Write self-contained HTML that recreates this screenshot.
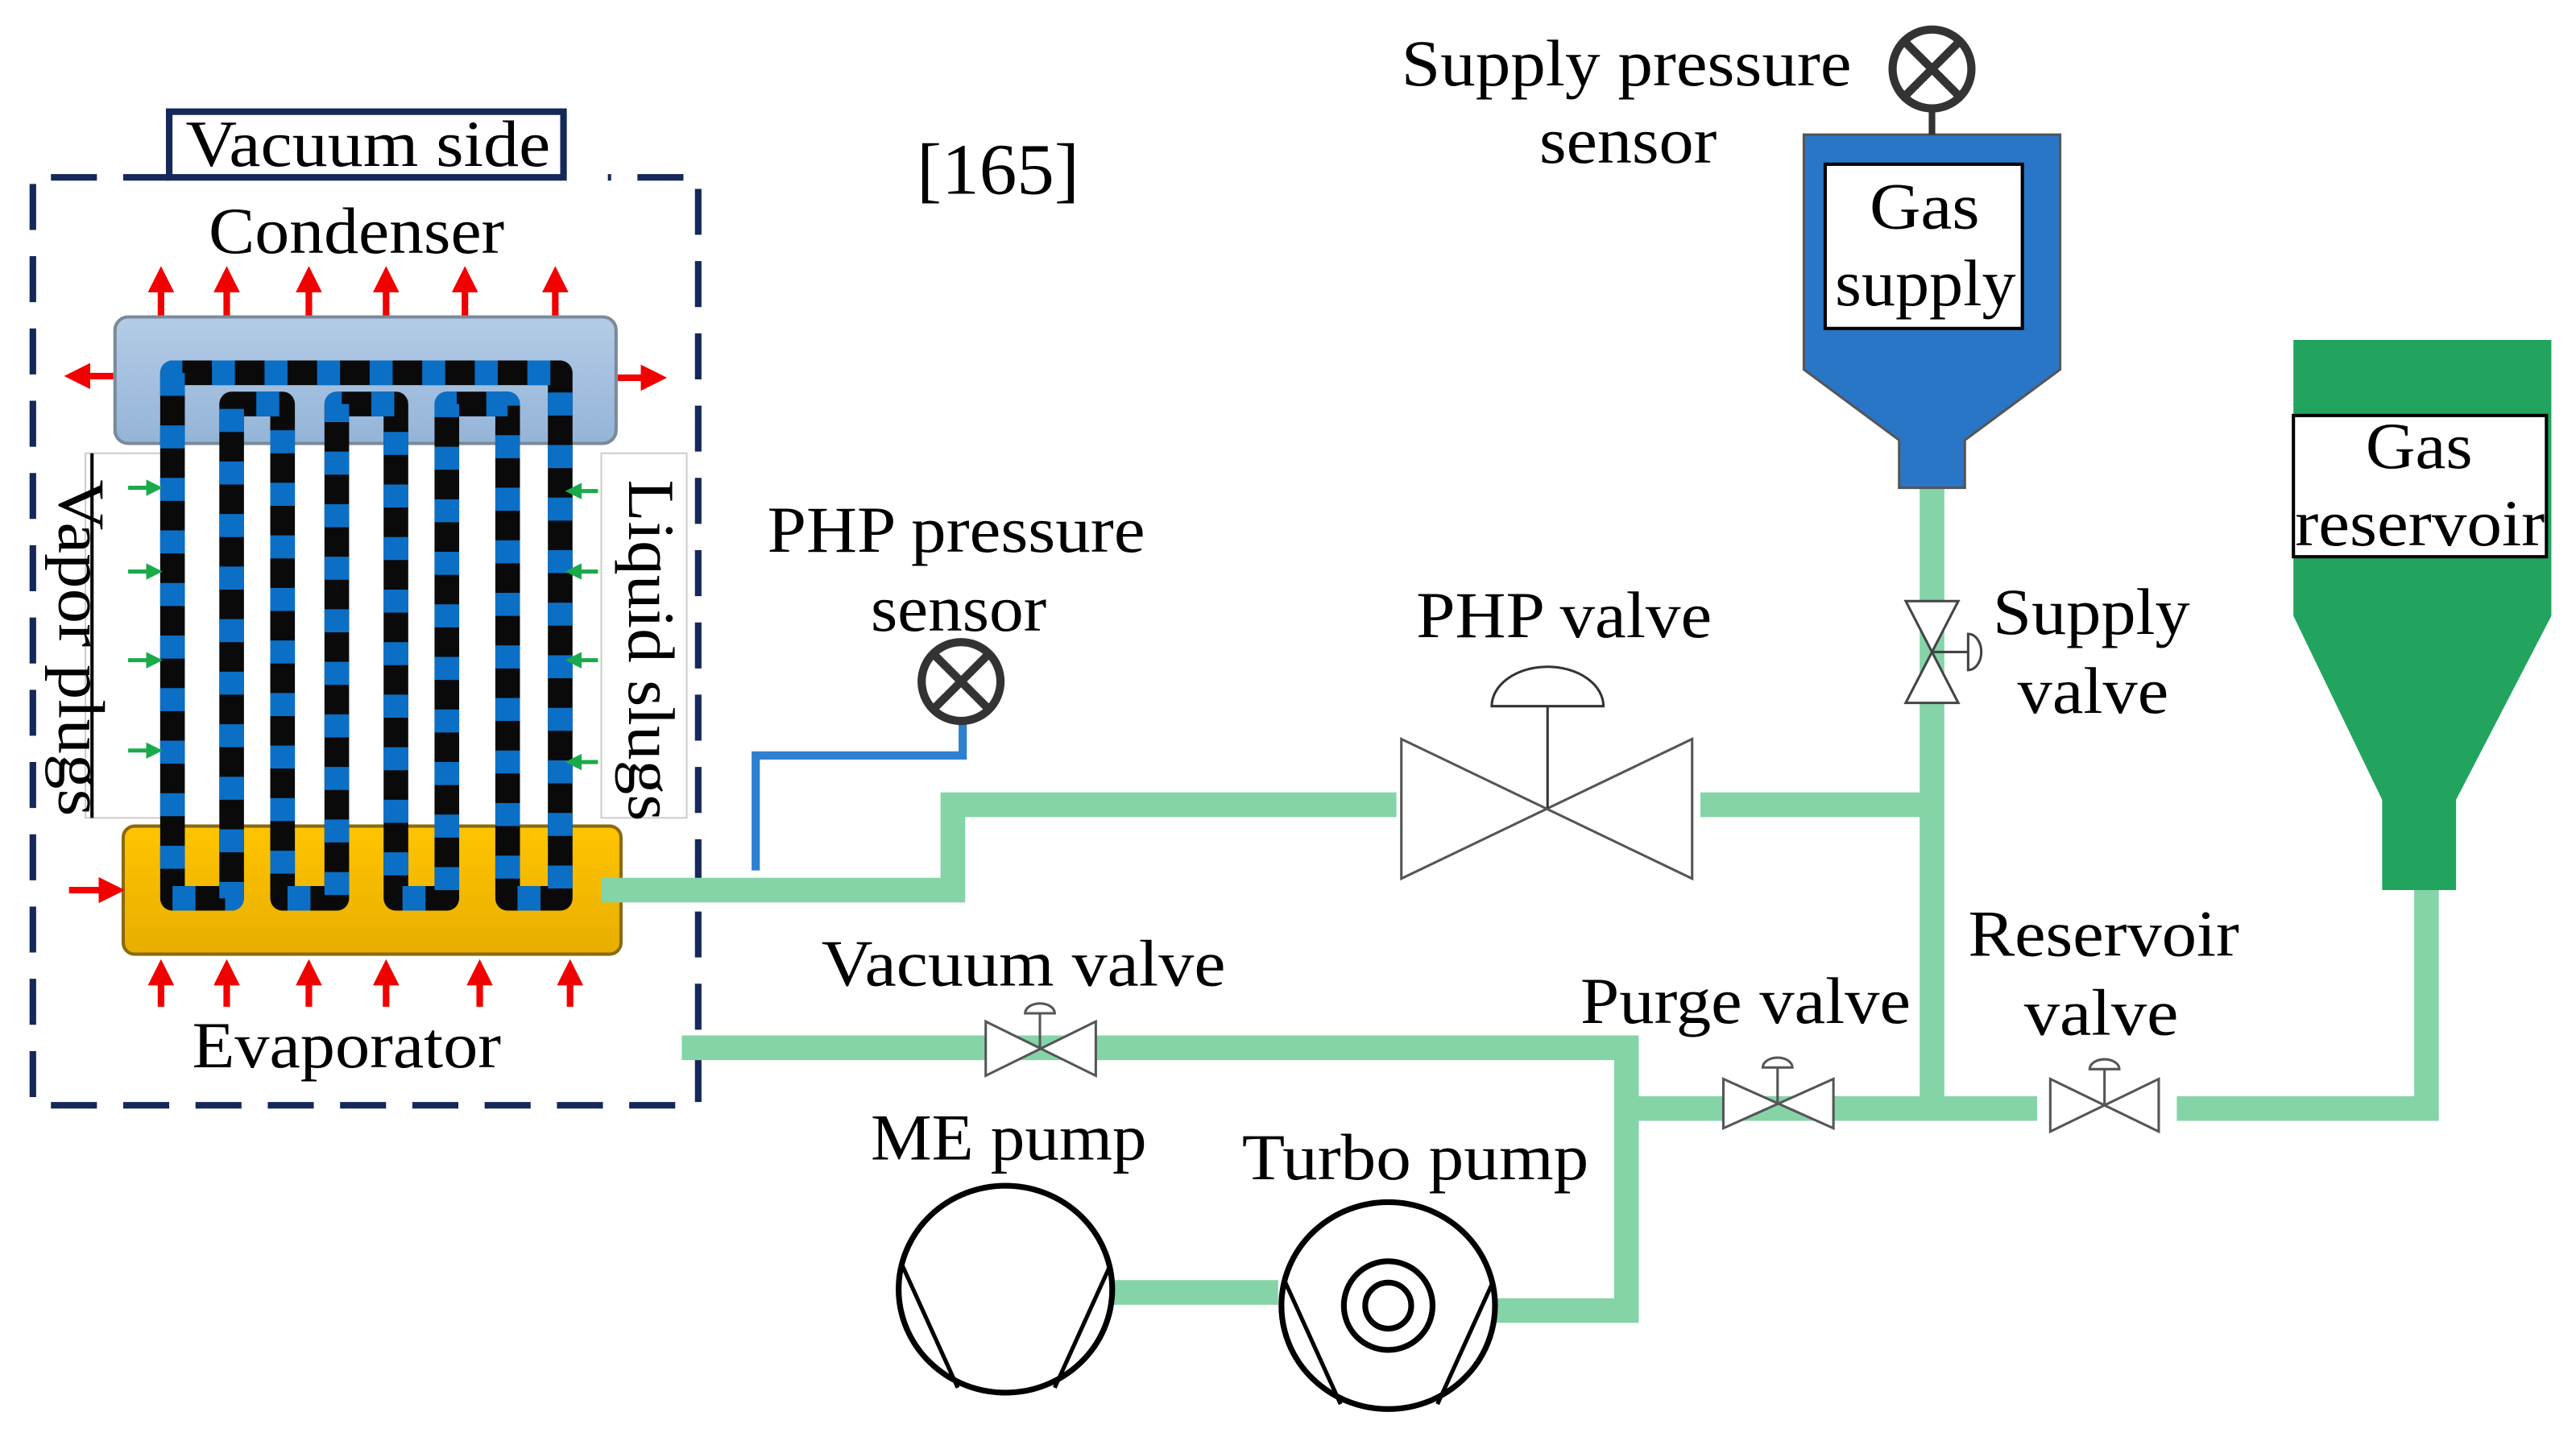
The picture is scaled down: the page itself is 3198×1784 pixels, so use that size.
<!DOCTYPE html>
<html><head><meta charset="utf-8"><style>
html,body{margin:0;padding:0;background:#fff;}
svg{display:block;}
text{font-family:"Liberation Serif",serif;fill:#000;}
</style></head><body>
<svg width="3198" height="1784" viewBox="0 0 1568 875" preserveAspectRatio="none" xmlns="http://www.w3.org/2000/svg">
<defs>
<linearGradient id="cg" x1="0" y1="0" x2="0" y2="1"><stop offset="0" stop-color="#b4cce6"/><stop offset="1" stop-color="#94b4d8"/></linearGradient>
<linearGradient id="eg" x1="0" y1="0" x2="0" y2="1"><stop offset="0" stop-color="#ffc400"/><stop offset="1" stop-color="#e8ae00"/></linearGradient>
<marker id="ra" markerWidth="4" markerHeight="4" refX="2" refY="2" orient="auto" markerUnits="strokeWidth"><path d="M0,0 L4,2 L0,4 z" fill="#f20000"/></marker>
<marker id="ga" markerWidth="4" markerHeight="4" refX="2" refY="2" orient="auto" markerUnits="strokeWidth"><path d="M0,0 L4,2 L0,4 z" fill="#1aaa4a"/></marker>
</defs>

<path d="M20,112 L20,673 L425,673 L425,108 L370,108 M103,108 L20,108" fill="none" stroke="#14285a" stroke-width="4" stroke-dasharray="28,16"/>
<rect x="103" y="68" width="240" height="40" fill="#fff" stroke="#14285a" stroke-width="4"/>
<text x="113" y="101" font-size="40" textLength="222" lengthAdjust="spacingAndGlyphs">Vacuum side</text>
<text x="558" y="118" font-size="44" textLength="99" lengthAdjust="spacingAndGlyphs">[165]</text>
<text x="127" y="154" font-size="40" textLength="180" lengthAdjust="spacingAndGlyphs">Condenser</text>
<text x="117" y="650" font-size="40" textLength="188" lengthAdjust="spacingAndGlyphs">Evaporator</text>

<rect x="52" y="276" width="48" height="222" fill="#fff" stroke="#ccc" stroke-width="1"/>
<line x1="56" y1="276" x2="56" y2="498" stroke="#000" stroke-width="2"/>
<rect x="366" y="276" width="52" height="222" fill="#fff" stroke="#ccc" stroke-width="1"/>
<text transform="translate(36,292) rotate(90)" font-size="40" textLength="205" lengthAdjust="spacingAndGlyphs">Vapor plugs</text>
<text transform="translate(383,292) rotate(90)" font-size="40" textLength="208" lengthAdjust="spacingAndGlyphs">Liquid slugs</text>

<rect x="70" y="193" width="305" height="77" rx="8" fill="url(#cg)" stroke="#7a8a9a" stroke-width="2"/>
<rect x="75" y="503" width="303" height="78" rx="7" fill="url(#eg)" stroke="#8a6a10" stroke-width="2"/>

<g fill="none" stroke-linejoin="round" stroke-width="15">
<path d="M105,227 L105,547 L141,547 L141,246 L172,246 L172,547 L205,547 L205,246 L241,246 L241,547 L272,547 L272,246 L309,246 L309,547 L341,547 L341,227 Z" stroke="#0a0a0a"/>
<path d="M105,227 L105,547 L141,547 L141,246 L172,246 L172,547 L205,547 L205,246 L241,246 L241,547 L272,547 L272,246 L309,246 L309,547 L341,547 L341,227 Z" stroke="#0b6fc6" stroke-dasharray="14,18"/>
</g>

<g stroke="#f20000" stroke-width="4" fill="none" marker-end="url(#ra)">
<line x1="98" y1="192" x2="98" y2="170"/><line x1="138" y1="192" x2="138" y2="170"/><line x1="188" y1="192" x2="188" y2="170"/><line x1="235" y1="192" x2="235" y2="170"/><line x1="283" y1="192" x2="283" y2="170"/><line x1="338" y1="192" x2="338" y2="170"/>
<line x1="69" y1="229" x2="47" y2="229"/><line x1="376" y1="230" x2="398" y2="230"/>
<line x1="42" y1="542" x2="68" y2="542"/>
<line x1="98" y1="613" x2="98" y2="592"/><line x1="138" y1="613" x2="138" y2="592"/><line x1="188" y1="613" x2="188" y2="592"/><line x1="235" y1="613" x2="235" y2="592"/><line x1="292" y1="613" x2="292" y2="592"/><line x1="347" y1="613" x2="347" y2="592"/>
</g>
<g stroke="#1aaa4a" stroke-width="2.5" fill="none" marker-end="url(#ga)">
<line x1="78" y1="297" x2="94" y2="297"/><line x1="78" y1="348" x2="94" y2="348"/><line x1="78" y1="402" x2="94" y2="402"/><line x1="78" y1="457" x2="94" y2="457"/>
<line x1="364" y1="299" x2="349" y2="299"/><line x1="364" y1="348" x2="349" y2="348"/><line x1="364" y1="402" x2="349" y2="402"/><line x1="364" y1="464" x2="349" y2="464"/>
</g>

<g fill="none" stroke="#84d4a8" stroke-width="15">
<path d="M366,542 L580,542 L580,490 L850,490"/>
<path d="M1035,490 L1176,490"/>
<path d="M1176,297 L1176,675"/>
<path d="M990,675 L1240,675"/>
<path d="M1325,675 L1477,675 L1477,540"/>
<path d="M415,638 L990,638 L990,798 L910,798"/>
<path d="M678,787 L778,787"/>
</g>
<path d="M460,530 L460,460 L586,460 L586,440" fill="none" stroke="#2f7fd0" stroke-width="5"/>
<circle cx="585" cy="415" r="24" fill="#fff" stroke="#333" stroke-width="5"/>
<path d="M568,398 L602,432 M602,398 L568,432" stroke="#333" stroke-width="5"/>
<text x="467" y="336" font-size="40" textLength="230" lengthAdjust="spacingAndGlyphs">PHP pressure</text>
<text x="530" y="384" font-size="40" textLength="107" lengthAdjust="spacingAndGlyphs">sensor</text>

<path d="M853,450 L1030,535 L1030,450 L853,535 Z" fill="#fff" stroke="#555" stroke-width="1.5"/>
<line x1="942" y1="492" x2="942" y2="430" stroke="#333" stroke-width="1.5"/>
<path d="M908,430 A34,24 0 0 1 976,430 Z" fill="#fff" stroke="#333" stroke-width="1.5"/>
<text x="862" y="388" font-size="40" textLength="180" lengthAdjust="spacingAndGlyphs">PHP valve</text>

<path d="M1160,366 L1192,428 L1160,428 L1192,366 Z" fill="#fff" stroke="#444" stroke-width="1.5"/>
<line x1="1176" y1="397" x2="1198" y2="397" stroke="#444" stroke-width="1.5"/>
<path d="M1198,386 A8,11 0 0 1 1198,408 Z" fill="#fff" stroke="#444" stroke-width="1.5"/>
<text x="1213" y="386" font-size="40" textLength="120" lengthAdjust="spacingAndGlyphs">Supply</text>
<text x="1228" y="434" font-size="40" textLength="92" lengthAdjust="spacingAndGlyphs">valve</text>

<path d="M1098,82 L1254,82 L1254,225 L1196,268 L1196,297 L1156,297 L1156,268 L1098,225 Z" fill="#2a76c6" stroke="#555" stroke-width="1.5"/>
<rect x="1111" y="100" width="120" height="100" fill="#fff" stroke="#000" stroke-width="2"/>
<text x="1138" y="139" font-size="40" textLength="67" lengthAdjust="spacingAndGlyphs">Gas</text>
<text x="1117" y="186" font-size="40" textLength="110" lengthAdjust="spacingAndGlyphs">supply</text>
<line x1="1176" y1="66" x2="1176" y2="82" stroke="#333" stroke-width="4"/>
<circle cx="1176" cy="42" r="24" fill="#fff" stroke="#333" stroke-width="5"/>
<path d="M1159,25 L1193,59 M1193,25 L1159,59" stroke="#333" stroke-width="5"/>
<text x="853" y="52" font-size="40" textLength="274" lengthAdjust="spacingAndGlyphs">Supply pressure</text>
<text x="937" y="99" font-size="40" textLength="108" lengthAdjust="spacingAndGlyphs">sensor</text>

<path d="M1396,207 L1553,207 L1553,375 L1495,487 L1495,542 L1450,542 L1450,487 L1396,375 Z" fill="#22a45e"/>
<rect x="1396" y="253" width="154" height="86" fill="#fff" stroke="#000" stroke-width="2"/>
<text x="1440" y="285" font-size="40" textLength="65" lengthAdjust="spacingAndGlyphs">Gas</text>
<text x="1397" y="332" font-size="40" textLength="152" lengthAdjust="spacingAndGlyphs">reservoir</text>

<g fill="#fff" stroke="#555" stroke-width="1.5">
<path d="M600,622 L667,655 L667,622 L600,655 Z"/>
<line x1="633" y1="638" x2="633" y2="617"/><path d="M624,617 A9,6 0 0 1 642,617 Z"/>
<path d="M1049,657 L1116,687 L1116,657 L1049,687 Z"/>
<line x1="1082" y1="672" x2="1082" y2="650"/><path d="M1073,650 A9,6 0 0 1 1091,650 Z"/>
<path d="M1248,657 L1314,689 L1314,657 L1248,689 Z"/>
<line x1="1281" y1="673" x2="1281" y2="651"/><path d="M1272,651 A9,6 0 0 1 1290,651 Z"/>
</g>
<text x="500" y="600" font-size="40" textLength="246" lengthAdjust="spacingAndGlyphs">Vacuum valve</text>
<text x="962" y="623" font-size="40" textLength="201" lengthAdjust="spacingAndGlyphs">Purge valve</text>
<text x="1198" y="582" font-size="40" textLength="165" lengthAdjust="spacingAndGlyphs">Reservoir</text>
<text x="1232" y="630" font-size="40" textLength="94" lengthAdjust="spacingAndGlyphs">valve</text>

<g fill="#fff" stroke="#000" stroke-width="3.5">
<ellipse cx="612" cy="785" rx="65" ry="63"/>
<path d="M549,770 L583,845 M676,770 L642,845" fill="none" stroke-width="2.5"/>
<ellipse cx="845" cy="795" rx="65" ry="63"/>
<path d="M782,780 L816,855 M909,780 L875,855" fill="none" stroke-width="2.5"/>
<circle cx="845" cy="795" r="27"/>
<circle cx="845" cy="795" r="14"/>
</g>
<text x="530" y="706" font-size="40" textLength="168" lengthAdjust="spacingAndGlyphs">ME pump</text>
<text x="756" y="718" font-size="40" textLength="211" lengthAdjust="spacingAndGlyphs">Turbo pump</text>
</svg>
</body></html>
